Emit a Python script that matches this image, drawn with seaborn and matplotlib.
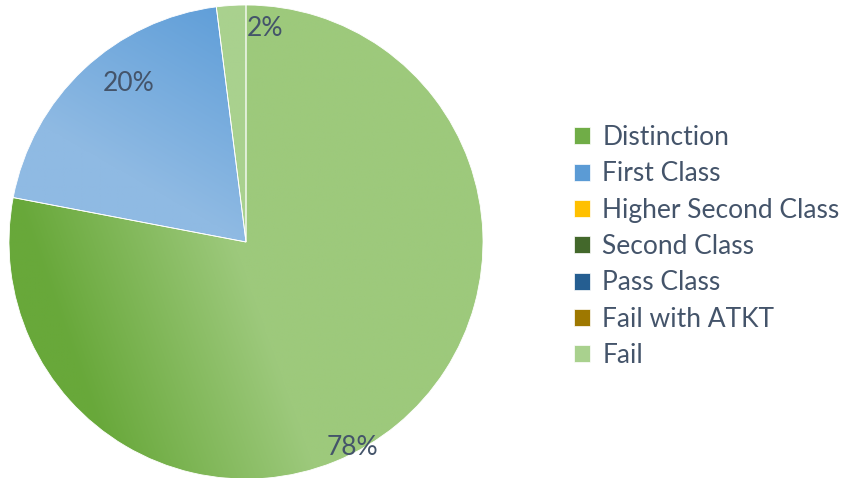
import numpy as np
import matplotlib
matplotlib.use("Agg")
import matplotlib.pyplot as plt
import seaborn as sns
from matplotlib.colors import to_rgb
from matplotlib.patches import Patch

sns.set_theme(style="white")
plt.rcParams['font.family'] = ['Lato', 'DejaVu Sans']

categories = ["Distinction", "First Class", "Higher Second Class", "Second Class",
              "Pass Class", "Fail with ATKT", "Fail"]
values = [78, 20, 0, 0, 0, 0, 2]
legend_colors = ["#70AD47", "#5B9BD5", "#FFC000", "#43682B", "#255E91", "#9E7800", "#A9D18E"]
# gradient (light, dark) per slice
grad_light = ["#9DC97C", "#8FBAE3", "#FFC000", "#43682B", "#255E91", "#9E7800", "#A9D18E"]
grad_dark = ["#68A83A", "#5598D6", "#FFC000", "#43682B", "#255E91", "#9E7800", "#A9D18E"]
# gradient direction (unit vector toward dark) and range
grad_dir = [(-0.942, -0.335), (0.5, 0.87), (0, 1), (0, 1), (0, 1), (0, 1), (0, 1)]
grad_range = [(0.05, 0.85), (0.0, 1.0), (0, 1), (0, 1), (0, 1), (0, 1), (0, 1)]
# label placement (angle in degrees, radius fraction)
label_pos = {0: (-62.7, 0.975), 1: (126.5, 0.83), 6: (85.0, 0.905)}

TEXT = "#44546A"
FS = 19

fig = plt.figure(figsize=(8.48, 4.78), dpi=100)
ax = fig.add_axes([(246 - 237) / 848, (236 - 237) / 478, 474 / 848, 474 / 478])

wedges, _ = ax.pie(values, colors=legend_colors, startangle=90, counterclock=False,
                   radius=1.0, wedgeprops=dict(edgecolor="white", linewidth=0.6))
ax.set_xlim(-1, 1)
ax.set_ylim(-1, 1)
ax.set_aspect("equal")
ax.axis("off")

n = 500
xs = np.linspace(-1, 1, n)
X, Y = np.meshgrid(xs, xs[::-1])
for i, w in enumerate(wedges):
    if values[i] == 0:
        continue
    dx, dy = grad_dir[i]
    lo, hi = grad_range[i]
    t = np.clip((X * dx + Y * dy - lo) / (hi - lo), 0, 1)
    c0 = np.array(to_rgb(grad_light[i]))
    c1 = np.array(to_rgb(grad_dark[i]))
    img = c0[None, None, :] * (1 - t[..., None]) + c1[None, None, :] * t[..., None]
    im = ax.imshow(img, extent=[-1, 1, -1, 1], zorder=w.get_zorder() + 0.1,
                   interpolation="bilinear")
    im.set_clip_path(w)
    w.set_facecolor("none")
    w.set_zorder(w.get_zorder() + 0.2)

total = sum(values)
for i, v in enumerate(values):
    if v == 0:
        continue
    ang, r = label_pos[i]
    a = np.deg2rad(ang)
    ax.text(r * np.cos(a), r * np.sin(a), f"{round(100 * v / total)}%",
            ha="center", va="center", fontsize=FS, color=TEXT, zorder=10)

handles = [Patch(facecolor=c, edgecolor="white", linewidth=0.5) for c in legend_colors]
leg = fig.legend(handles, categories, loc="center left", bbox_to_anchor=(0.677, 0.484),
                 frameon=False, fontsize=FS, handlelength=0.62, handleheight=0.62,
                 handletextpad=0.45, labelspacing=0.43, borderaxespad=0, borderpad=0)
for t in leg.get_texts():
    t.set_color(TEXT)

fig.savefig("out.png", dpi=100)
